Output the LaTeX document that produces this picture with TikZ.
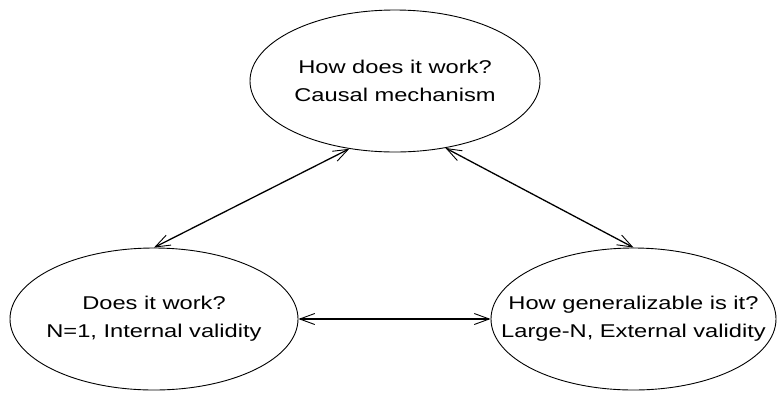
\documentclass[tikz,border=0pt]{standalone}
\usepackage{fontspec}
\setmainfont{Liberation Sans}
\newfontfamily\widesans[FakeStretch=1.28]{Liberation Sans}
\usetikzlibrary{shapes.geometric,arrows.meta}
\begin{document}
\begin{tikzpicture}[x=1pt,y=-1pt,
  oval/.style={ellipse,draw,line width=0.9pt,inner sep=0pt,minimum height=142pt},
  label/.style={inner sep=0pt,align=center,font=\widesans\fontsize{18.5}{28}\selectfont},
  link/.style={line width=1.3pt,{Straight Barb[length=15pt,width=11pt,line width=0.9pt]}-{Straight Barb[length=15pt,width=11pt,line width=0.9pt]}}]
\useasboundingbox (0,0) rectangle (778,392);
\node[oval,minimum width=290pt] (top) at (395,81) {};
\node[oval,minimum width=288pt] (left) at (154,319) {};
\node[oval,minimum width=285pt] (right) at (633.5,319) {};
\node[label] (toptext) at (top.center) {How does it work?\\Causal mechanism};
\node[label] (lefttext) at (left.center) {Does it work?\\N=1, Internal validity};
\node[label] (righttext) at (right.center) {How generalizable is it?\\Large-N, External validity};
\draw[link] (top.236) -- (left.north);
\draw[link] (top.307) -- (right.north);
\draw[link] (left.east) -- (right.west);
\end{tikzpicture}
\end{document}
